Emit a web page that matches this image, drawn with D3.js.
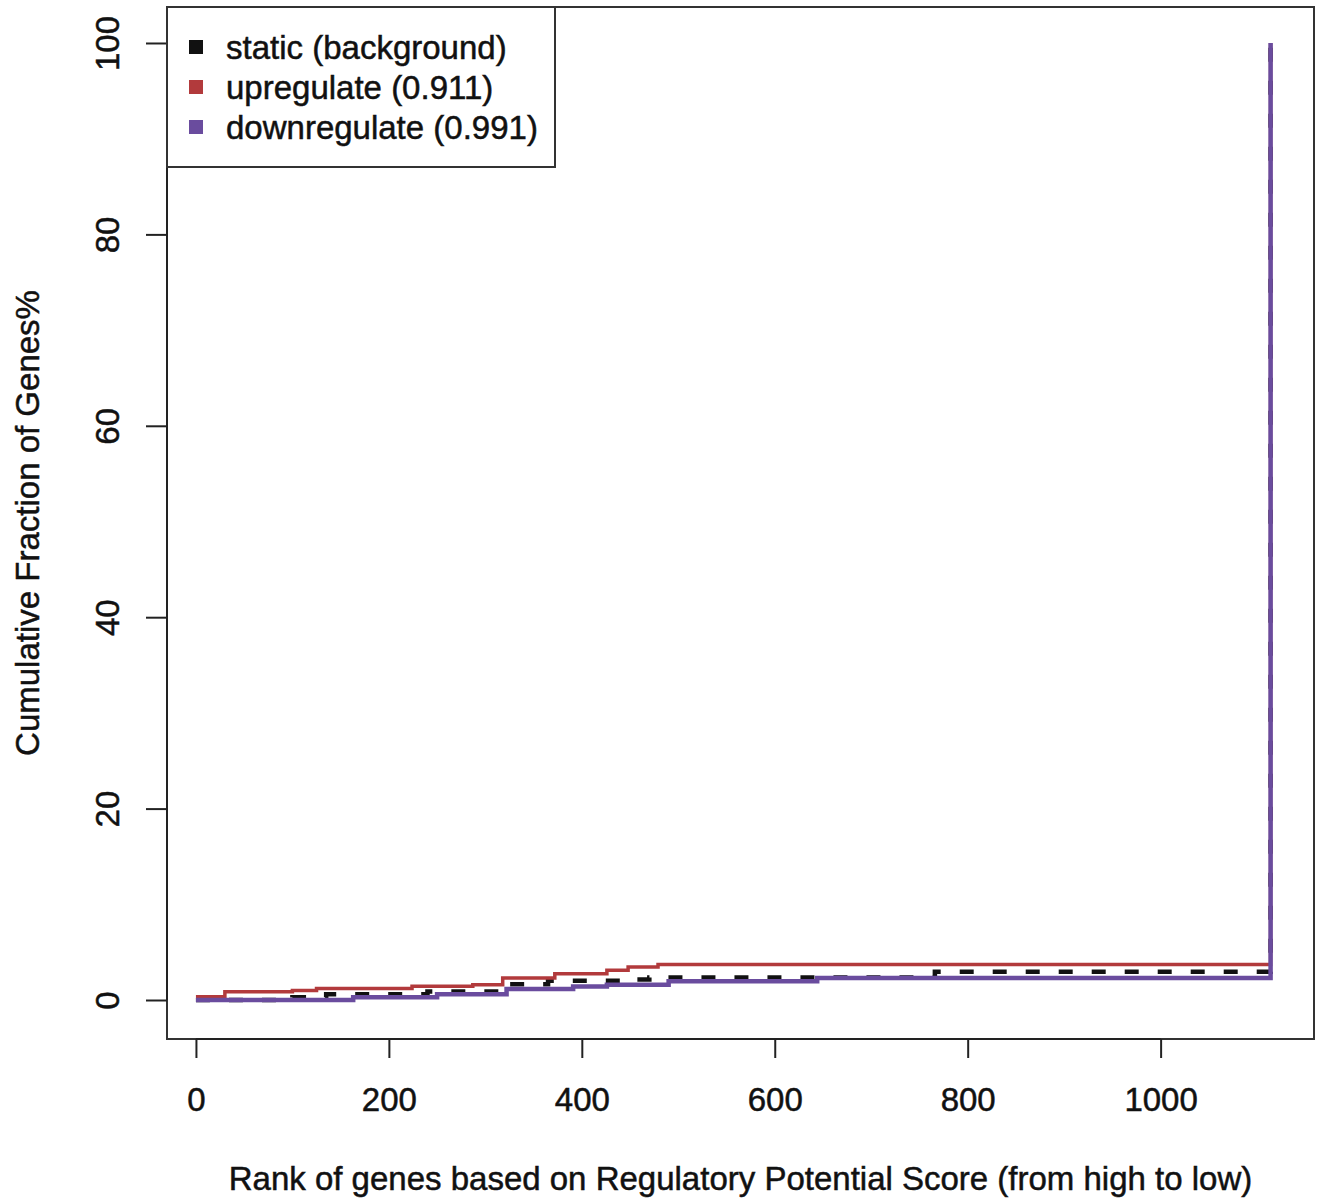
<!DOCTYPE html>
<html>
<head>
<meta charset="utf-8">
<script src="https://cdn.jsdelivr.net/npm/d3@7"></script>
<style>
  body { margin: 0; background: #fff; }
  text { font-family: "Liberation Sans", Arial, sans-serif; fill: #111; stroke: #111; stroke-width: 0.5px; }
</style>
</head>
<body>
<div id="chart"></div>
<script>
// step points: rank where a step starts, cumulative fraction (%)
var staticRank = [0, 100, 135, 240, 315, 365, 440, 470, 766, 1114];
var staticPct = [0, 0.3, 0.6, 0.9, 1.65, 2.0, 2.15, 2.35, 2.95, 100];

var upRank = [0, 30, 100, 125, 224, 287, 318, 372, 426, 448, 479, 1114];
var upPct = [0.35, 0.85, 1.0, 1.2, 1.45, 1.6, 2.3, 2.75, 3.1, 3.45, 3.7, 100];

var downRank = [0, 163, 250, 322, 391, 426, 490, 644, 1114];
var downPct = [0, 0.28, 0.6, 1.15, 1.4, 1.6, 1.95, 2.3, 100];

var xTicks = [0, 200, 400, 600, 800, 1000];
var yTicks = [0, 20, 40, 60, 80, 100];

var legendLabels = ['static (background)', 'upregulate (0.911)', 'downregulate (0.991)'];
var legendColors = ['#111111', '#b23a3c', '#6a4c9e'];

var width = 1323,
    height = 1198,
    fontSize = 33;

var svg = d3
    .select('#chart')
    .append('svg')
    .attr('width', width)
    .attr('height', height);

var x = d3.scaleLinear().domain([-30, 1159]).range([167, 1314]);
var y = d3.scaleLinear().domain([-4.075, 103.76]).range([1039, 7]);

function pairs(r, v) {
    return r.map(function (d, i) {
        return [d, v[i]];
    });
}

var line = d3
    .line()
    .curve(d3.curveStepAfter)
    .x(function (d) { return x(d[0]); })
    .y(function (d) { return y(d[1]); });

// lines
svg.append('path')
    .datum(pairs(staticRank, staticPct))
    .attr('d', line)
    .attr('fill', 'none')
    .attr('stroke', legendColors[0])
    .attr('stroke-width', 4.5)
    .attr('stroke-dasharray', '14,19');

svg.append('path')
    .datum(pairs(upRank, upPct))
    .attr('d', line)
    .attr('fill', 'none')
    .attr('stroke', legendColors[1])
    .attr('stroke-width', 3.5);

svg.append('path')
    .datum(pairs(downRank, downPct))
    .attr('d', line)
    .attr('fill', 'none')
    .attr('stroke', legendColors[2])
    .attr('stroke-width', 4.5);

// plot box
svg.append('rect')
    .attr('x', x.range()[0])
    .attr('y', y.range()[1])
    .attr('width', x.range()[1] - x.range()[0])
    .attr('height', y.range()[0] - y.range()[1])
    .attr('fill', 'none')
    .attr('stroke', '#333')
    .attr('stroke-width', 2);

// x axis
var xAxis = svg.append('g')
    .attr('transform', 'translate(0,1039)')
    .call(d3.axisBottom(x).tickValues(xTicks).tickSize(19).tickPadding(30).tickSizeOuter(0).tickFormat(d3.format('d')));
xAxis.select('.domain')
    .attr('d', 'M' + x(0) + ',0H' + x(1000))
    .attr('stroke', '#222')
    .attr('stroke-width', 2);
xAxis.selectAll('.tick line').attr('stroke', '#222').attr('stroke-width', 2);
xAxis.selectAll('.tick text')
    .attr('font-size', fontSize)
    .style('font-family', '"Liberation Sans", Arial, sans-serif')
    .attr('fill', '#111');

// y axis
var yAxis = svg.append('g')
    .attr('transform', 'translate(167,0)')
    .call(d3.axisLeft(y).tickValues(yTicks).tickSize(21).tickSizeOuter(0).tickFormat(d3.format('d')));
yAxis.select('.domain')
    .attr('d', 'M0,' + y(0) + 'V' + y(100))
    .attr('stroke', '#222')
    .attr('stroke-width', 2);
yAxis.selectAll('.tick line').attr('stroke', '#222').attr('stroke-width', 2);
yAxis.selectAll('.tick text')
    .attr('font-size', fontSize)
    .style('font-family', '"Liberation Sans", Arial, sans-serif')
    .attr('fill', '#111')
    .attr('x', 0)
    .attr('dy', null)
    .attr('text-anchor', 'middle')
    .attr('dominant-baseline', 'central')
    .attr('transform', 'translate(-60,0) rotate(-90)');

// axis titles
svg.append('text')
    .attr('x', (x.range()[0] + x.range()[1]) / 2)
    .attr('y', 1190)
    .attr('text-anchor', 'middle')
    .attr('font-size', fontSize)
    .text('Rank of genes based on Regulatory Potential Score (from high to low)');

svg.append('text')
    .attr('transform', 'translate(39,' + (y.range()[0] + y.range()[1]) / 2 + ') rotate(-90)')
    .attr('text-anchor', 'middle')
    .attr('font-size', fontSize)
    .text('Cumulative Fraction of Genes%');

// legend
var legend = svg.append('g');
legend.append('rect')
    .attr('x', 167)
    .attr('y', 7)
    .attr('width', 388)
    .attr('height', 160)
    .attr('fill', '#fff')
    .attr('stroke', '#333')
    .attr('stroke-width', 2);

legendLabels.forEach(function (lab, i) {
    var cy = 47 + i * 40;
    legend.append('rect')
        .attr('x', 189)
        .attr('y', cy - 7)
        .attr('width', 14)
        .attr('height', 14)
        .attr('fill', legendColors[i]);
    legend.append('text')
        .attr('x', 226)
        .attr('y', cy)
        .attr('dominant-baseline', 'central')
        .attr('font-size', fontSize)
        .text(lab);
});
</script>
</body>
</html>
